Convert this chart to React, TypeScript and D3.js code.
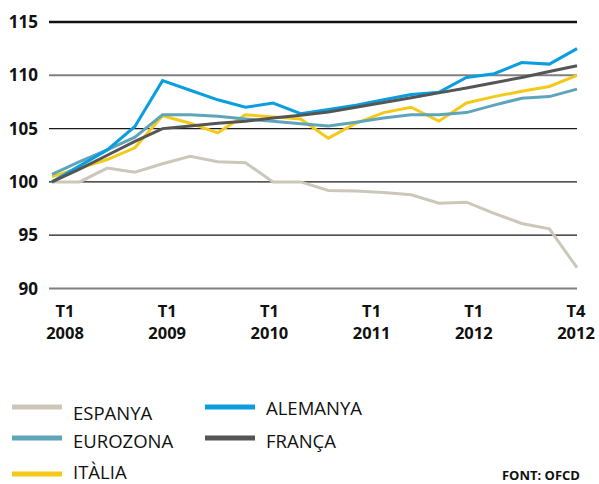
import React from "react";
import * as d3 from "d3";

const quarters = [
  "T1 2008", "T2 2008", "T3 2008", "T4 2008",
  "T1 2009", "T2 2009", "T3 2009", "T4 2009",
  "T1 2010", "T2 2010", "T3 2010", "T4 2010",
  "T1 2011", "T2 2011", "T3 2011", "T4 2011",
  "T1 2012", "T2 2012", "T3 2012", "T4 2012",
];

const espanya = [100, 100, 101.3, 100.9, 101.7, 102.4, 101.9, 101.8, 100.0, 100.0, 99.2, 99.15, 99.0, 98.8, 98.0, 98.1, 97.05, 96.1, 95.6, 91.95];
const alemanya = [100, 101.5, 103.0, 105.2, 109.5, 108.6, 107.7, 107.0, 107.4, 106.4, 106.8, 107.2, 107.7, 108.2, 108.4, 109.8, 110.15, 111.2, 111.05, 112.5];
const eurozona = [100.7, 101.9, 103.0, 104.2, 106.3, 106.3, 106.15, 105.9, 105.7, 105.45, 105.25, 105.6, 106.0, 106.3, 106.3, 106.5, 107.2, 107.85, 108.0, 108.7];
const italia = [100.5, 101.3, 102.1, 103.2, 106.2, 105.5, 104.6, 106.3, 106.1, 105.9, 104.1, 105.5, 106.5, 107.0, 105.7, 107.4, 108.0, 108.5, 108.95, 110.0];
const franca = [100, 101.2, 102.5, 103.8, 105.0, 105.25, 105.5, 105.7, 106.0, 106.25, 106.55, 107.0, 107.45, 107.9, 108.35, 108.8, 109.3, 109.8, 110.35, 110.9];

const xTickTop = ["T1", "T1", "T1", "T1", "T1", "T4"];
const xTickBottom = ["2008", "2009", "2010", "2011", "2012", "2012"];

const seriesNames = ["ESPANYA", "ITÀLIA", "EUROZONA", "ALEMANYA", "FRANÇA"];
const seriesData = [espanya, italia, eurozona, alemanya, franca];
const seriesColors = ["#cdc7bb", "#f4c919", "#5ea5bb", "#0a9ee0", "#555555"];

const W = 599;
const H = 484;

export default function App() {
  const x = d3.scaleLinear().domain([0, quarters.length - 1]).range([52, 577]);
  const y = d3.scaleLinear().domain([90, 115]).range([288.5, 22]);
  const xLab = d3.scalePoint<number>().domain(xTickTop.map((_, i) => i)).range([65, 576]);
  const line = d3.line<number>().x((_, i) => x(i)).y((d) => y(d));
  const ticks = y.ticks(5);

  const gridStyle = (t: number) => {
    if (t === 115) return { stroke: "#111", w: 2.6 };
    if (t === 110 || t === 90) return { stroke: "#808080", w: 2 };
    return { stroke: "#1a1a1a", w: 1.2 };
  };

  const legend = [
    { name: "ESPANYA", color: seriesColors[0], sx: 12, sy: 407, ty: 420 },
    { name: "ALEMANYA", color: seriesColors[3], sx: 205, sy: 407, ty: 415 },
    { name: "EUROZONA", color: seriesColors[2], sx: 12, sy: 438, ty: 448 },
    { name: "FRANÇA", color: seriesColors[4], sx: 205, sy: 438, ty: 448 },
    { name: "ITÀLIA", color: seriesColors[1], sx: 12, sy: 474, ty: 479 },
  ];

  return (
    <svg
      width={W}
      height={H}
      style={{ position: "absolute", left: 0, top: 0, background: "#fff" }}
      fontFamily="'Open Sans', sans-serif"
    >
      {ticks.map((t) => {
        const g = gridStyle(t);
        return (
          <g key={t}>
            <line x1={49} x2={577} y1={y(t)} y2={y(t)} stroke={g.stroke} strokeWidth={g.w} />
            <text x={38} y={y(t) + 6} textAnchor="end" fontSize={17} fontWeight={700} fill="#111">
              {t}
            </text>
          </g>
        );
      })}
      {xTickTop.map((t, i) => (
        <g key={i}>
          <text x={xLab(i)} y={317} textAnchor="middle" fontSize={16.5} fontWeight={700} fill="#111">
            {t}
          </text>
          <text x={xLab(i)} y={338.5} textAnchor="middle" fontSize={16.5} fontWeight={700} fill="#111">
            {xTickBottom[i]}
          </text>
        </g>
      ))}
      {seriesData.map((d, i) => (
        <path
          key={seriesNames[i]}
          d={line(d) || ""}
          fill="none"
          stroke={seriesColors[i]}
          strokeWidth={3}
          strokeLinejoin="miter"
        />
      ))}
      {legend.map((l) => (
        <g key={l.name}>
          <line x1={l.sx} x2={l.sx + 50} y1={l.sy} y2={l.sy} stroke={l.color} strokeWidth={5} />
          <text x={l.sx + 61} y={l.ty} fontSize={18.5} fill="#111">
            {l.name}
          </text>
        </g>
      ))}
      <text x={580} y={480} textAnchor="end" fontSize={13} fontWeight={700} fill="#111">
        FONT: OFCD
      </text>
    </svg>
  );
}
